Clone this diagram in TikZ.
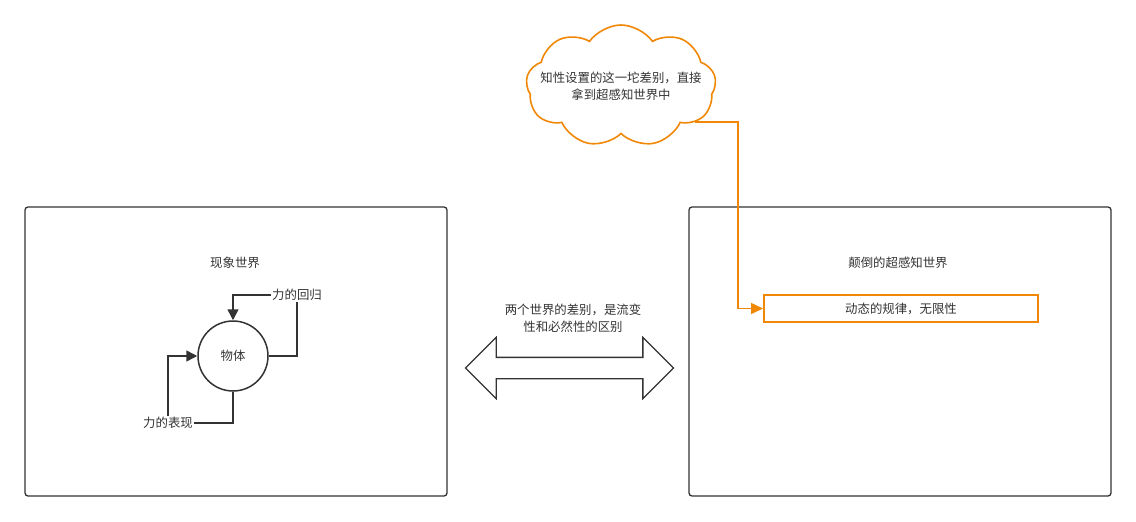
\documentclass[tikz,border=0pt]{standalone}
\usepackage{fontspec}
\setmainfont{Noto Sans CJK SC}
\usetikzlibrary{positioning,shapes.symbols,shapes.arrows,arrows.meta}
\definecolor{linegray}{HTML}{333333}
\definecolor{draworange}{HTML}{F08705}
\tikzset{
    world/.style={draw=linegray,line width=1.3pt,rounded corners=3pt,
        minimum width=422pt,minimum height=289pt,inner sep=0pt},
    txt/.style={text=linegray,font=\fontsize{12.4}{17}\selectfont,align=center,inner sep=1pt},
    link/.style={draw=linegray,line width=1.5pt},
    flow/.style={link,-{Triangle[length=11pt,width=11pt]}},
    oflow/.style={draw=draworange,line width=1.6pt,-{Triangle[length=12pt,width=11pt]}}
}

\begin{document}
\begin{tikzpicture}[x=1pt,y=-1pt]
    \useasboundingbox (0,0) rectangle (1136,522);
    % draw the two worlds
    \node[world] (L) at (236,351.5) {};
    \node[world] (R) at (900,351.5) {};
    \node[txt] (Ltitle) at (235,263) {现象世界};
    \node[txt] (Rtitle) at (898,263) {颠倒的超感知世界};
    % the body and its forces
    \node[txt,draw=linegray,line width=1.5pt,circle,minimum size=70pt] (obj) at (233,356) {物体};
    \node[txt] (ret) at (297,295) {力的回归};
    \node[txt] (exp) at (168,423) {力的表现};
    \draw[link] (obj.east) -| (ret.south);
    \draw[flow] (ret.west) -| (obj.north);
    \draw[link] (obj.south) |- (exp.east);
    \draw[flow] (exp.north) |- (obj.west);
    % the difference between both worlds
    \node[double arrow,draw=linegray,line width=1.3pt,minimum width=60pt,minimum height=208pt,
        double arrow head extend=20pt,inner xsep=0pt,inner ysep=10pt] (gap) at (569.5,368) {};
    \node[txt] (diff) at (573,318) {两个世界的差别，是流变\\性和必然性的区别};
    % the cloud and the law
    \node[cloud,cloud puffs=9,cloud puff arc=110,draw=draworange,line width=1.6pt,
        minimum width=190pt,minimum height=122pt,inner sep=0pt,
        label={[txt]center:{知性设置的这一坨差别，直接\\拿到超感知世界中}}] (cloud) at (621,86) {};
    \node[txt,draw=draworange,line width=2pt,minimum width=274pt,minimum height=27pt] (law) at (901,308.5) {动态的规律，无限性};
    \draw[oflow] (cloud.-26) -| ([xshift=-25pt]law.west) -- (law.west);
\end{tikzpicture}
\end{document}
